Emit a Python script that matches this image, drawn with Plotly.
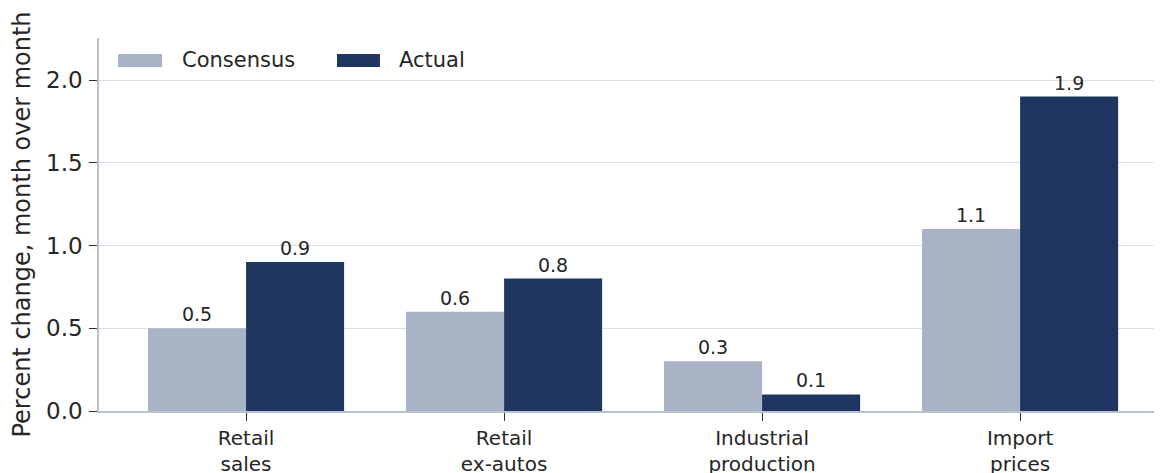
import plotly.graph_objects as go

categories = ["Retail<br>sales", "Retail<br>ex-autos", "Industrial<br>production", "Import<br>prices"]
consensus = [0.5, 0.6, 0.3, 1.1]
actual = [0.9, 0.8, 0.1, 1.9]
series_names = ["Consensus", "Actual"]
colors = ["#A8B3C5", "#1F3661"]

font_family = "DejaVu Sans"
fig = go.Figure()
for name, vals, col in zip(series_names, [consensus, actual], colors):
    fig.add_trace(go.Bar(
        x=categories, y=vals, name=name, marker=dict(color=col, line=dict(width=0)),
        text=[f"{v:.1f}" for v in vals], textposition="outside",
        textfont=dict(size=19, color="#262626", family=font_family),
        cliponaxis=False, showlegend=False,
    ))

# page body has an 8px margin, so offsets are compensated here
fig.update_layout(
    width=1162, height=473,
    margin=dict(l=91, r=8, t=30, b=70),
    paper_bgcolor="white", plot_bgcolor="white",
    barmode="group", bargap=0.24, bargroupgap=0,
    font=dict(family=font_family, color="#262626"),
    xaxis=dict(
        range=[-0.57, 3.55], showline=True, linecolor="#B9C1CF", linewidth=1.5,
        ticks="outside", ticklen=8, tickcolor="#333333", automargin=False,
        tickfont=dict(size=20, color="#262626"), showgrid=False,
    ),
    yaxis=dict(
        range=[0, 2.254], tickvals=[0, 0.5, 1.0, 1.5, 2.0],
        ticktext=["0.0", "0.5", "1.0", "1.5", "2.0"],
        showline=True, linecolor="#B9C1CF", linewidth=1.5, automargin=False,
        ticks="outside", ticklen=8, tickcolor="#333333", ticklabelstandoff=2,
        tickfont=dict(size=23, color="#262626"),
        showgrid=True, gridcolor="#DADDE7", gridwidth=1.2, zeroline=False,
        title=dict(text="Percent change, month over month", font=dict(size=24, color="#262626"), standoff=15),
    ),
)

# custom legend (wide swatches)
legend_x = [(0.0179, 0.0593, 0.0762), (0.2239, 0.2643, 0.2803)]
for (x0, x1, xt), name, col in zip(legend_x, series_names, colors):
    fig.add_shape(type="rect", xref="paper", yref="paper", x0=x0, x1=x1, y0=0.922, y1=0.957,
                  fillcolor=col, line=dict(width=0))
    fig.add_annotation(xref="paper", yref="paper", x=xt, y=0.94, text=name, showarrow=False,
                       xanchor="left", yanchor="middle", font=dict(size=21, color="#262626"))

fig.write_html("out.html")
